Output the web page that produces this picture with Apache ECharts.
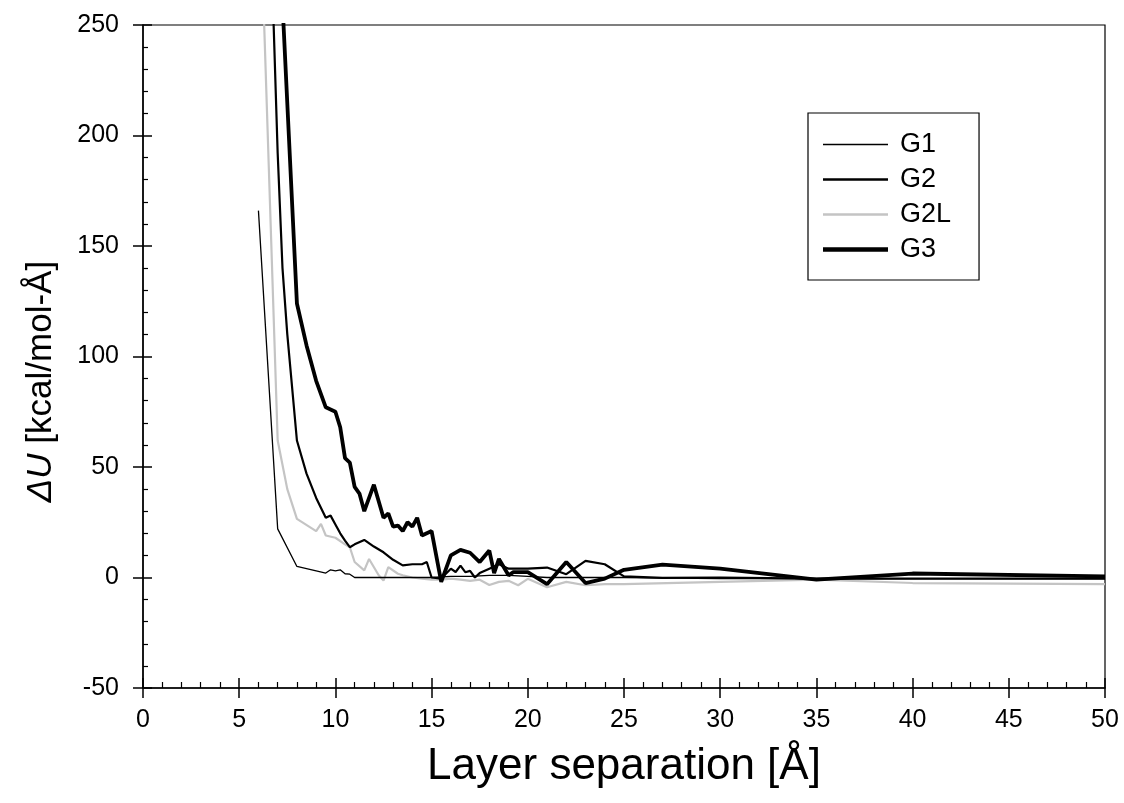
<!DOCTYPE html>
<html>
<head>
<meta charset="utf-8">
<script src="https://cdn.jsdelivr.net/npm/echarts@6/dist/echarts.min.js"></script>
<style>html,body{margin:0;padding:0;background:#fff}#c{width:1124px;height:803px}</style>
</head>
<body>
<div id="c"></div>
<script>
// ---- data ----
var seriesNames = ['G1', 'G2', 'G2L', 'G3'];
var xTicks = [0, 5, 10, 15, 20, 25, 30, 35, 40, 45, 50];
var yTicks = [-50, 0, 50, 100, 150, 200, 250];

var g1X = [6, 7, 8, 9, 9.5, 9.75, 10, 10.25, 10.5, 10.75, 11, 12, 13, 14, 15, 16, 17, 18, 19, 20, 21, 22, 23, 24, 25, 30, 35, 40, 50];
var g1Y = [166, 22, 5, 3, 2, 3.5, 3, 3.5, 1.7, 1.5, 0, 0, 0, 0, 0, 0.5, 0.5, 1, 1, 0.5, 0, 0, 0, 0, 0, -0.5, -0.5, -0.5, -0.5];

var g2X = [6.5, 7, 7.25, 7.5, 8, 8.5, 9, 9.5, 9.75, 10, 10.25, 10.5, 10.75, 11, 11.5, 12, 12.5, 13, 13.5, 14, 14.5, 14.75, 15, 15.5, 16, 16.25, 16.5, 16.75, 17, 17.25, 17.5, 18, 18.5, 19, 20, 21, 22, 23, 24, 25, 27, 30, 35, 40, 50];
var g2Y = [330, 192, 140, 110, 62, 47, 36, 27, 28, 24, 20, 16.7, 13.7, 15, 17, 14, 11.4, 8, 5.5, 6, 6, 7, 0, -0.5, 4, 2.5, 5.4, 2.4, 3, 0, 2, 4, 6, 4, 4, 4.5, 1.5, 7.5, 6, 0.5, -0.2, 0, -0.5, -0.5, -0.5];

var g2lX = [6, 7, 7.5, 8, 9, 9.25, 9.5, 10, 10.5, 10.75, 11, 11.5, 11.75, 12.25, 12.5, 12.75, 13.25, 13.5, 14, 14.5, 15, 15.5, 16, 16.5, 17, 17.5, 18, 18.5, 19, 19.5, 20, 21, 22, 23, 24, 25, 30, 35, 40, 50];
var g2lY = [330, 62, 40, 26.5, 21, 24.3, 19, 18, 15, 13.7, 7, 3.2, 8.4, 1, -1.4, 4.7, 1.7, 1, 0, -0.5, -1, -1, -0.5, -1, -1.5, -1, -3.4, -2, -1.5, -3.5, -0.6, -4.4, -2, -3.5, -3, -3, -2, -1, -2.5, -3];

var g3X = [7, 8, 8.5, 9, 9.5, 10, 10.25, 10.5, 10.75, 11, 11.25, 11.5, 12, 12.5, 12.75, 13, 13.25, 13.5, 13.75, 14, 14.25, 14.5, 15, 15.5, 16, 16.5, 17, 17.5, 18, 18.25, 18.5, 19, 19.25, 20, 21, 22, 23, 24, 25, 27, 30, 35, 40, 50];
var g3Y = [305, 124, 105, 89, 77, 75, 68, 54, 52, 41, 38, 30, 42, 27, 29, 23, 23.5, 21, 25, 23, 27, 19, 21, -2, 10, 12.5, 11.2, 7, 12.2, 2, 8.4, 1, 2.4, 2.4, -3, 7, -2.5, -0.5, 3.5, 5.8, 4, -1, 1.8, 0.5];

function pairs(xs, ys) { return xs.map(function (x, i) { return [x, ys[i]]; }); }

// legend line icon of a given thickness inside a 65x14 box
function lineIcon(t) {
  var y0 = (14 - t) / 2, y1 = y0 + t;
  return 'path://M0,0 L0.01,0 L0,0.01 Z M0,14 L0.01,14 L0,13.99 Z M0,' + y0 + ' L65,' + y0 + ' L65,' + y1 + ' L0,' + y1 + ' Z';
}

var FONT = '"Liberation Sans", Arial, Helvetica, sans-serif';
var seriesColors = ['#000', '#000', '#c4c4c4', '#000'];
var seriesWidths = [1.3, 2.2, 2.2, 3.8];
var seriesData = [pairs(g1X, g1Y), pairs(g2X, g2Y), pairs(g2lX, g2lY), pairs(g3X, g3Y)];
var seriesZ = [4, 3, 2, 5];

var chart = echarts.init(document.getElementById('c'), null, { renderer: 'canvas' });

var baseX = {
  type: 'value', min: xTicks[0], max: xTicks[xTicks.length - 1], interval: 5,
  gridIndex: 0, position: 'bottom'
};
var baseY = {
  type: 'value', min: yTicks[0], max: yTicks[yTicks.length - 1], interval: 50,
  gridIndex: 0, position: 'left'
};

var option = {
  animation: false,
  backgroundColor: '#fff',
  grid: { left: 143, right: 19, top: 25, bottom: 115, show: true, borderColor: '#000', borderWidth: 1.2, backgroundColor: 'transparent' },
  legend: {
    orient: 'vertical',
    left: 808, top: 113,
    data: seriesNames.map(function (n, i) { return { name: n, icon: lineIcon(seriesWidths[i] + (i === 3 ? 0.5 : 0.4)) }; }),
    itemWidth: 65, itemHeight: 14, itemGap: 8,
    padding: [18, 28, 17, 15],
    borderColor: '#000', borderWidth: 1.2,
    backgroundColor: '#fff',
    textStyle: { fontFamily: FONT, fontSize: 27, color: '#000', padding: [0, 0, 0, 7] },
    selectedMode: false
  },
  xAxis: [
    Object.assign({}, baseX, {
      name: 'Layer separation [Å]', nameLocation: 'middle', nameGap: 57,
      nameTextStyle: { fontFamily: FONT, fontSize: 44, color: '#000' },
      axisLine: { show: true, onZero: false, lineStyle: { color: '#000', width: 1.5 } },
      axisTick: { show: true, inside: false, length: 10, lineStyle: { color: '#000', width: 1.5 } },
      minorTick: { show: false },
      axisLabel: { show: true, margin: 20, fontFamily: FONT, fontSize: 25, color: '#000' },
      splitLine: { show: false }
    }),
    Object.assign({}, baseX, {
      axisLine: { show: false, onZero: false },
      axisTick: { show: true, inside: true, length: 10, lineStyle: { color: '#000', width: 1.5 } },
      minorTick: { show: true, splitNumber: 5, length: 6, lineStyle: { color: '#000', width: 1.2 } },
      axisLabel: { show: false },
      splitLine: { show: false }
    })
  ],
  yAxis: [
    Object.assign({}, baseY, {
      name: '{i|ΔU} [kcal/mol-Å]', nameLocation: 'middle', nameGap: 84,
      nameTextStyle: { fontFamily: FONT, fontSize: 35, color: '#000', padding: [0, 50, 0, 0],
        rich: { i: { fontFamily: FONT, fontSize: 35, fontStyle: 'italic', color: '#000' } } },
      axisLine: { show: true, onZero: false, lineStyle: { color: '#000', width: 1.5 } },
      axisTick: { show: true, inside: false, length: 10, lineStyle: { color: '#000', width: 1.5 } },
      minorTick: { show: false },
      axisLabel: { show: true, margin: 24, fontFamily: FONT, fontSize: 25, color: '#000' },
      splitLine: { show: false }
    }),
    Object.assign({}, baseY, {
      axisLine: { show: false, onZero: false },
      axisTick: { show: true, inside: true, length: 9, lineStyle: { color: '#000', width: 1.5 } },
      minorTick: { show: true, splitNumber: 5, length: 5, lineStyle: { color: '#000', width: 1.2 } },
      axisLabel: { show: false },
      splitLine: { show: false }
    })
  ],
  series: seriesNames.map(function (n, i) {
    return {
      name: n, type: 'line', data: seriesData[i], symbol: 'none', showSymbol: false,
      lineStyle: { color: seriesColors[i], width: seriesWidths[i] },
      itemStyle: { color: seriesColors[i] }, z: seriesZ[i]
    };
  })
};
chart.setOption(option);
</script>
</body>
</html>
